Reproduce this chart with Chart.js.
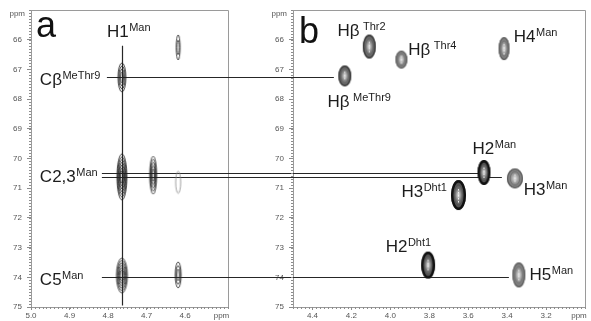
<!DOCTYPE html>
<html lang="en">
<head>
<meta charset="UTF-8">
<title>HSQC panels a / b</title>
<script src="https://cdn.jsdelivr.net/npm/chart.js"></script>
<style>
  body { margin: 0; background: #fff; }
  #wrap { position: relative; width: 591px; height: 321px; }
  canvas { position: absolute; top: 0; }
</style>
</head>
<body>
<div id="wrap">
  <canvas id="panelA" width="262" height="321" style="left:0"></canvas>
  <canvas id="panelB" width="329" height="321" style="left:262px"></canvas>
</div>
<script>
// ---- data (1H ppm on x, 13C ppm on y) ----
const peaksAx = [4.764, 4.618, 4.764, 4.683, 4.618, 4.764, 4.618];
const peaksAy = [67.27, 66.26, 70.62, 70.56, 70.80, 73.94, 73.92];

const peaksBx = [4.108, 3.943, 4.234, 3.416, 3.519, 3.360, 3.650, 3.806, 3.340];
const peaksBy = [66.23, 66.67, 67.22, 66.30, 70.47, 70.67, 71.23, 73.59, 73.92];

const ticksAx = [5.0, 4.9, 4.8, 4.7, 4.6];
const ticksBx = [4.4, 4.2, 4.0, 3.8, 3.6, 3.4, 3.2];
const ticksY = [66, 67, 68, 69, 70, 71, 72, 73, 74, 75];

const labelsA = [['H1', 'Man'], ['C\u03b2', 'MeThr9'], ['C2,3', 'Man'], ['C5', 'Man']];
const labelsB = [['H\u03b2', ' Thr2'], ['H\u03b2', ' Thr4'], ['H\u03b2', ' MeThr9'], ['H4', 'Man'],
                 ['H2', 'Man'], ['H3', 'Dht1'], ['H3', 'Man'], ['H2', 'Dht1'], ['H5', 'Man']];

// H1 Man trace in a, and the 13C lines carried from a over to b
const traceH1 = { x: 4.764, from: 66.2, to: 74.95 };
const linkY = [67.27, 70.48, 70.63, 73.98];
const linkStartA = [4.803, 4.816, 4.816, 4.816];
const linkEndB = [4.29, 3.543, 3.427, 3.391];

// ---- layout / style ----
const labelPosA = [[4.803, 65.91], [4.977, 67.53], [4.977, 70.79], [4.977, 74.26]];
const labelPosB = [[4.272, 65.875], [3.908, 66.52], [4.323, 68.27], [3.366, 66.08],
                   [3.578, 69.85], [3.943, 71.30], [3.315, 71.23], [4.024, 73.15], [3.285, 74.09]];
// contour size in px: [w, h, levels]
const shapeA = [[8, 29, 4], [4, 25, 2], [10, 46, 7], [7, 38, 5], [5, 22, 1], [11, 35, 6], [6, 26, 3]];
const shapeB = [[13, 24, 'mid'], [12, 18, 'light'], [13, 21, 'mid'], [11, 23, 'light'], [13, 25, 'dark'],
                [16, 20, 'light'], [15, 30, 'dark'], [14, 27, 'dark'], [13, 25, 'light']];

const FONT = "'Liberation Sans', Arial, Helvetica, sans-serif";
const tones = {
  dark:  { line: '#111', lw: 2.4, mid: '#6e6e6e', edge: '#3c3c3c' },
  mid:   { line: '#3a3a3a', lw: 1.4, mid: '#858585', edge: '#555' },
  light: { line: '#5c5c5c', lw: 1.1, mid: '#9a9a9a', edge: '#6e6e6e' }
};

function contour(w, h, n) {
  const c = document.createElement('canvas');
  c.width = w + 4; c.height = h + 4;
  const g = c.getContext('2d');
  g.translate(c.width / 2, c.height / 2);
  g.strokeStyle = n === 1 ? '#8a8a8a' : '#222';
  g.lineWidth = 0.8;
  for (let k = 0; k < n; k++) {
    const s = 1 - (k / n) * 0.85;
    g.beginPath();
    g.ellipse(0, 0, Math.max(w / 2 * s, 0.6), h / 2 * s, 0, 0, Math.PI * 2);
    g.stroke();
  }
  return c;
}

function blob(w, h, toneName) {
  const t = tones[toneName];
  const c = document.createElement('canvas');
  c.width = w + 4; c.height = h + 4;
  const g = c.getContext('2d');
  g.translate(c.width / 2, c.height / 2);
  g.save();
  g.scale(1, h / w);
  const r = w / 2;
  const grd = g.createRadialGradient(0, 0, 0, 0, 0, r);
  grd.addColorStop(0, '#e6e6e6');
  grd.addColorStop(0.45, t.mid);
  grd.addColorStop(1, t.edge);
  g.fillStyle = grd;
  g.beginPath(); g.arc(0, 0, r, 0, Math.PI * 2); g.fill();
  g.restore();
  g.strokeStyle = 'rgba(60,60,60,0.5)';
  g.lineWidth = 0.7;
  g.beginPath(); g.ellipse(0, 0, w * 0.3, h * 0.33, 0, 0, Math.PI * 2); g.stroke();
  g.strokeStyle = t.line;
  g.lineWidth = t.lw;
  g.beginPath(); g.ellipse(0, 0, w / 2 - t.lw / 2, h / 2 - t.lw / 2, 0, 0, Math.PI * 2); g.stroke();
  g.fillStyle = '#f2f2f2';
  for (let y = -h / 5; y <= h / 5; y += 3) g.fillRect(-0.5, y, 1, 1.5);
  return c;
}

function drawLabel(ctx, main, sup, x, y, size) {
  ctx.fillStyle = '#1c1c1c';
  ctx.textBaseline = 'alphabetic';
  ctx.textAlign = 'left';
  ctx.font = size + 'px ' + FONT;
  ctx.fillText(main, x, y);
  const w = ctx.measureText(main).width;
  ctx.font = '11px ' + FONT;
  ctx.fillText(sup, x + w + 0.5, y - 6);
}

const panelPlugin = {
  id: 'panelDecor',
  beforeDatasetsDraw(chart, args, o) {
    const { ctx, chartArea: a } = chart;
    const xs = chart.scales.x, ys = chart.scales.y;
    ctx.save();
    // frame
    ctx.strokeStyle = '#9a9a9a';
    ctx.lineWidth = 1;
    ctx.beginPath();
    ctx.moveTo(a.left, Math.round(a.top) + 0.5);
    ctx.lineTo(Math.round(a.right) + 0.5, Math.round(a.top) + 0.5);
    ctx.lineTo(Math.round(a.right) + 0.5, a.bottom);
    ctx.stroke();
    // correlation lines
    ctx.strokeStyle = '#262626';
    ctx.lineWidth = 1.2;
    linkY.forEach((v, i) => {
      const y = Math.round(ys.getPixelForValue(v)) + 0.5;
      const x0 = o.side === 'a' ? xs.getPixelForValue(linkStartA[i]) : 0;
      const x1 = o.side === 'a' ? chart.width : xs.getPixelForValue(linkEndB[i]);
      ctx.beginPath(); ctx.moveTo(x0, y); ctx.lineTo(x1, y); ctx.stroke();
    });
    if (o.side === 'a') {
      const x = Math.round(xs.getPixelForValue(traceH1.x)) + 0.5;
      ctx.beginPath();
      ctx.moveTo(x, ys.getPixelForValue(traceH1.from));
      ctx.lineTo(x, ys.getPixelForValue(traceH1.to));
      ctx.stroke();
    }
    ctx.restore();
  },
  afterDraw(chart, args, o) {
    const { ctx, chartArea: a } = chart;
    const xs = chart.scales.x, ys = chart.scales.y;
    ctx.save();
    // minor ticks
    ctx.strokeStyle = '#8c8c8c';
    ctx.lineWidth = 1;
    ctx.beginPath();
    for (let v = ys.min; v <= ys.max + 1e-6; v += 0.1) {
      const y = Math.round(ys.getPixelForValue(v)) + 0.5;
      ctx.moveTo(a.left - 2, y); ctx.lineTo(a.left, y);
    }
    for (let v = xs.min; v <= xs.max + 1e-6; v += o.minorX) {
      const x = Math.round(xs.getPixelForValue(v)) + 0.5;
      ctx.moveTo(x, a.bottom); ctx.lineTo(x, a.bottom + 2);
    }
    ctx.stroke();
    // "ppm" unit labels
    ctx.fillStyle = '#555';
    ctx.font = '8px ' + FONT;
    ctx.textBaseline = 'middle';
    ctx.textAlign = 'right';
    ctx.fillText('ppm', a.left - 6, a.top + 4);
    ctx.textAlign = 'center';
    ctx.fillText('ppm', a.right - 6, a.bottom + 9);
    // panel letter
    ctx.fillStyle = '#111';
    ctx.textAlign = 'left';
    ctx.textBaseline = 'alphabetic';
    ctx.font = '36px ' + FONT;
    ctx.fillText(o.letter, a.left + o.letterDx, a.top + o.letterDy);
    // peak labels
    o.labels.forEach((l, i) => {
      const p = o.pos[i];
      drawLabel(ctx, l[0], l[1], xs.getPixelForValue(p[0]), ys.getPixelForValue(p[1]), 17);
    });
    ctx.restore();
  }
};

function makePanel(id, cfg) {
  return new Chart(document.getElementById(id), {
    type: 'scatter',
    data: {
      datasets: [{
        data: cfg.px.map((x, i) => ({ x: x, y: cfg.py[i] })),
        pointStyle: cfg.images,
        pointRadius: 5
      }]
    },
    options: {
      responsive: false,
      animation: false,
      events: [],
      layout: { padding: { top: 10, right: cfg.padRight, left: 0, bottom: 0 } },
      plugins: {
        legend: { display: false },
        tooltip: { enabled: false },
        panelDecor: { side: cfg.side, minorX: cfg.minorX, letter: cfg.letter,
                      letterDx: cfg.letterDx, letterDy: cfg.letterDy,
                      labels: cfg.labels, pos: cfg.pos }
      },
      scales: {
        x: {
          type: 'linear', reverse: true, min: cfg.xmin, max: cfg.xmax,
          afterFit: s => { s.height = 14; },
          afterBuildTicks: s => { s.ticks = cfg.ticksX.map(v => ({ value: v })); },
          ticks: { autoSkip: false, maxRotation: 0, padding: 1, color: '#555',
                   font: { family: FONT, size: 8 }, callback: v => v.toFixed(1) },
          grid: { drawOnChartArea: false, tickLength: 3, color: '#8c8c8c' },
          border: { color: '#9a9a9a' }
        },
        y: {
          type: 'linear', reverse: true, min: 65, max: 75,
          afterFit: s => { s.width = 31; },
          afterBuildTicks: s => { s.ticks = ticksY.map(v => ({ value: v })); },
          ticks: { autoSkip: false, padding: 5, color: '#555',
                   font: { family: FONT, size: 8 }, callback: v => String(v) },
          grid: { drawOnChartArea: false, tickLength: 4, color: '#8c8c8c' },
          border: { color: '#9a9a9a' }
        }
      }
    },
    plugins: [panelPlugin]
  });
}

makePanel('panelA', {
  side: 'a', px: peaksAx, py: peaksAy,
  images: shapeA.map(s => contour(s[0], s[1], s[2])),
  xmin: 4.49, xmax: 5.0, ticksX: ticksAx, minorX: 0.01, padRight: 34.5,
  letter: 'a', letterDx: 5, letterDy: 27, labels: labelsA, pos: labelPosA
});

makePanel('panelB', {
  side: 'b', px: peaksBx, py: peaksBy,
  images: shapeB.map(s => blob(s[0], s[1], s[2])),
  xmin: 3.0, xmax: 4.5, ticksX: ticksBx, minorX: 0.02, padRight: 1,
  letter: 'b', letterDx: 6, letterDy: 33, labels: labelsB, pos: labelPosB
});
</script>
</body>
</html>
